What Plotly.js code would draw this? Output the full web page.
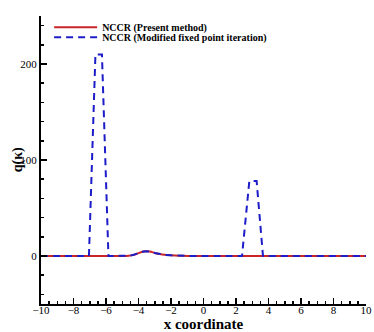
<!DOCTYPE html>
<html>
<head>
<meta charset="utf-8">
<script src="https://cdn.plot.ly/plotly-3.0.1.min.js"></script>
<style>
  html, body { margin: 0; padding: 0; background: #fff; }
  #plot { width: 374px; height: 332px; }
</style>
</head>
<body>
<div id="plot"></div>
<script>
// present method: smooth, a small bump near x = -3.5
var presentX = [-10, -5, -4.6, -4.3, -4.0, -3.7, -3.5, -3.3, -3.0, -2.7, -2.4, -2.0, -1.5, -1.0, 0, 10];
var presentY = [0, 0, 0.3, 1.2, 3.0, 4.6, 5.0, 4.6, 3.2, 2.0, 1.2, 0.7, 0.3, 0.1, 0, 0];

// modified fixed point iteration: same bump plus two spikes
var fixedX = [-10, -7.05, -6.65, -6.25, -5.85, -5, -4.6, -4.3, -4.0, -3.7, -3.5, -3.3, -3.0, -2.7, -2.4, -2.0, -1.5, -1.0, 0, 2.37, 2.82, 3.27, 3.66, 10];
var fixedY = [0, 0, 210, 210, 0, 0, 0.3, 1.2, 3.0, 4.6, 5.0, 4.6, 3.2, 2.0, 1.2, 0.7, 0.3, 0.1, 0, 0, 78, 78, 0, 0];

var serif = 'Liberation Serif';

var presentTrace = {
    x: presentX,
    y: presentY,
    mode: 'lines',
    type: 'scatter',
    name: 'NCCR (Present method)',
    legend: 'legend',
    line: { color: '#c8262b', width: 2, shape: 'spline', smoothing: 0.6 }
};

var fixedTrace = {
    x: fixedX,
    y: fixedY,
    mode: 'lines',
    type: 'scatter',
    name: 'NCCR (Modified fixed point iteration)',
    legend: 'legend2',
    line: { color: '#1c1cc8', width: 2, dash: '7px,5px' }
};

var legendFont = { family: serif, size: 10, weight: 'bold', color: '#000' };

var layout = {
    width: 374,
    height: 332,
    margin: { l: 41, r: 8, t: 16, b: 28 },
    paper_bgcolor: '#fff',
    plot_bgcolor: '#fff',
    font: { family: serif, color: '#000', size: 11 },
    showlegend: true,
    legend: {
        x: 0.025, y: 1.011, xanchor: 'left', yanchor: 'top',
        bgcolor: 'rgba(0,0,0,0)', font: legendFont, itemwidth: 43
    },
    legend2: {
        x: 0.025, y: 0.9765, xanchor: 'left', yanchor: 'top',
        bgcolor: 'rgba(0,0,0,0)', font: legendFont, itemwidth: 43
    },
    xaxis: {
        range: [-10, 10],
        dtick: 2,
        ticks: 'inside', ticklen: 6, tickwidth: 1.5, tickcolor: '#000',
        ticklabelstandoff: -5,
        showline: true, linecolor: '#000', linewidth: 2,
        showgrid: false, zeroline: false,
        minor: { dtick: 0.5, ticks: 'inside', ticklen: 3, tickcolor: '#000', showgrid: false },
        tickfont: { family: serif, size: 11 },
        title: { text: 'x coordinate', font: { family: serif, size: 15, weight: 'bold' } }
    },
    yaxis: {
        range: [-50, 250],
        dtick: 100,
        ticks: 'inside', ticklen: 6, tickwidth: 1.5, tickcolor: '#000',
        showline: true, linecolor: '#000', linewidth: 2,
        showgrid: false, zeroline: false,
        minor: { dtick: 20, ticks: 'inside', ticklen: 3, tickcolor: '#000', showgrid: false },
        tickfont: { family: serif, size: 11 }
    },
    annotations: [{
        text: 'q(κ)', textangle: -90,
        xref: 'paper', x: -0.07, xanchor: 'center',
        yref: 'y', y: 100, yanchor: 'middle',
        showarrow: false,
        font: { family: serif, size: 14, weight: 'bold', color: '#000' }
    }]
};

Plotly.newPlot('plot', [presentTrace, fixedTrace], layout, { displayModeBar: false, staticPlot: true });
</script>
</body>
</html>
